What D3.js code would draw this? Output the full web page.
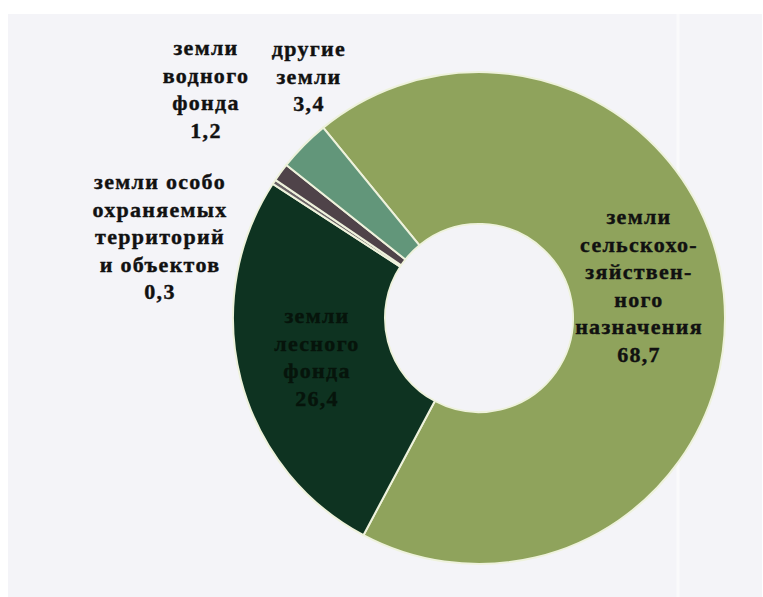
<!DOCTYPE html>
<html>
<head>
<meta charset="utf-8">
<script src="https://cdn.jsdelivr.net/npm/d3@7"></script>
<style>
  html, body { margin: 0; padding: 0; background: #ffffff; }
  svg { display: block; }
</style>
</head>
<body>
<svg id="chart" width="763" height="597"></svg>
<script>
// ---- data ----
const categories = [
  "земли сельскохозяйственного назначения",
  "земли лесного фонда",
  "земли особо охраняемых территорий и объектов",
  "земли водного фонда",
  "другие земли"
];
const values = [68.7, 26.4, 0.3, 1.2, 3.4];
const labelLines = [
  ["земли", "сельскохо-", "зяйствен-", "ного", "назначения"],
  ["земли", "лесного", "фонда"],
  ["земли особо", "охраняемых", "территорий", "и объектов"],
  ["земли", "водного", "фонда"],
  ["другие", "земли"]
];

// ---- layout / style ----
const colors = ["#8fa35c", "#0e3321", "#6a6266", "#4f4349", "#62967a"];
const textColors = ["#111111", "#06140b", "#111111", "#111111", "#111111"];
const cx = 479, cy = 318, rOuter = 246, rInner = 94;
const startDeg = -39.3;
// label anchors (centre x, first baseline y)
const labelAnchor = [
  {x: 639, y: 224}, {x: 317, y: 323},
  {x: 160, y: 189}, {x: 206, y: 55}, {x: 309, y: 56}
];
const lineH = 27.6;

const svg = d3.select("#chart");

// page background (scanned sheet)
svg.append("rect").attr("x", 8).attr("y", 14).attr("width", 754).attr("height", 583)
  .attr("fill", "#f4f4f8");
svg.append("line").attr("x1", 678).attr("x2", 678).attr("y1", 14).attr("y2", 597)
  .attr("stroke", "#fafafb").attr("stroke-width", 3);

const fmt = v => d3.format(".1f")(v).replace(".", ",");

const pie = d3.pie().sort(null).value(d => d)
  .startAngle(startDeg * Math.PI / 180)
  .endAngle(startDeg * Math.PI / 180 + 2 * Math.PI);
const arcs = pie(values);

const arc = d3.arc().innerRadius(rInner).outerRadius(rOuter);

const g = svg.append("g").attr("transform", `translate(${cx},${cy})`);

g.selectAll("path.slice").data(arcs).join("path")
  .attr("class", "slice")
  .attr("d", arc)
  .attr("fill", (d, i) => colors[i])
  .attr("stroke", "#eef2dc")
  .attr("stroke-width", 2)
  .attr("stroke-linejoin", "round");

// inner hole
g.append("circle").attr("r", rInner - 1).attr("fill", "#f3f3f7");

// labels
arcs.forEach((d, i) => {
  const lines = labelLines[i].concat([fmt(values[i])]);
  const x = labelAnchor[i].x, y0 = labelAnchor[i].y;
  const t = svg.append("text")
    .attr("text-anchor", "middle")
    .attr("font-family", "'Liberation Serif', 'Times New Roman', serif")
    .attr("font-weight", "bold")
    .attr("font-size", 22)
    .attr("letter-spacing", 1.3)
    .attr("fill", textColors[i])
    .attr("stroke", textColors[i])
    .attr("stroke-width", 0.4);
  lines.forEach((ln, k) => {
    t.append("tspan").attr("x", x).attr("y", y0 + k * lineH).text(ln);
  });
});
</script>
</body>
</html>
